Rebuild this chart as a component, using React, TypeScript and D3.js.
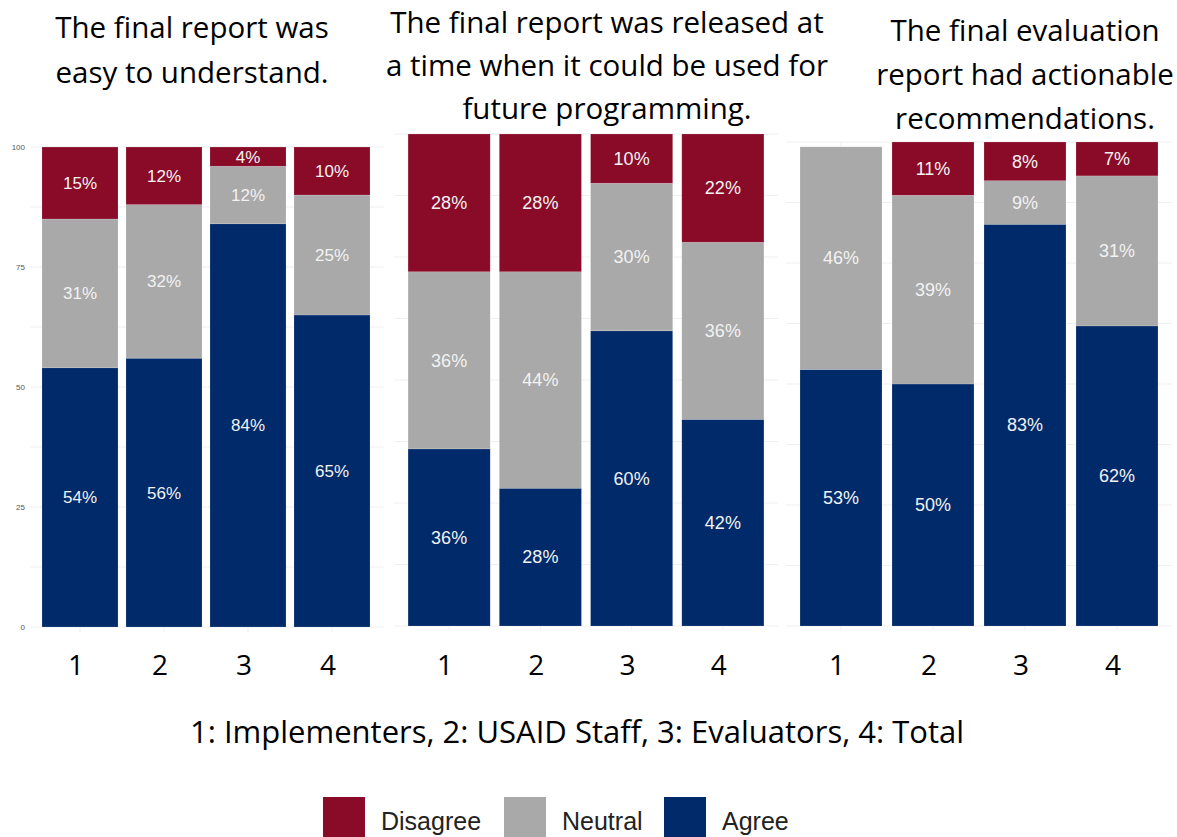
import * as d3 from 'd3';
import React from 'react';

const categories = ['1', '2', '3', '4'];
const seriesNames = ['Disagree', 'Neutral', 'Agree'];

const disagree1 = [15, 12, 4, 10];
const neutral1 = [31, 32, 12, 25];
const agree1 = [54, 56, 84, 65];

const disagree2 = [28, 28, 10, 22];
const neutral2 = [36, 44, 30, 36];
const agree2 = [36, 28, 60, 42];

const disagree3 = [0, 11, 8, 7];
const neutral3 = [46, 39, 9, 31];
const agree3 = [53, 50, 83, 62];

const yTicks = [0, 25, 50, 75, 100];
const gridTicks = [0, 12.5, 25, 37.5, 50, 62.5, 75, 87.5, 100];

const titles = [
  ['The final report was', 'easy to understand.'],
  ['The final report was released at', 'a time when it could be used for', 'future programming.'],
  ['The final evaluation', 'report had actionable', 'recommendations.'],
];
const caption = '1: Implementers, 2: USAID Staff, 3: Evaluators, 4: Total';

const colors = { Disagree: '#8a0b28', Neutral: '#a9a9a9', Agree: '#002a6a' };

// layout of the three pasted panels
const panels = [
  { agree: agree1, neutral: neutral1, disagree: disagree1, x: [38, 374], y: [627, 147], grid: [30, 384], pIn: 0.095, labelSize: 17, axis: true,
    title: { cx: 192, y: 38, lh: 45 } },
  { agree: agree2, neutral: neutral2, disagree: disagree2, x: [403.5, 768.5], y: [626, 134], grid: [394, 778], pIn: 0.1, labelSize: 18, axis: false,
    title: { cx: 607, y: 33, lh: 43 } },
  { agree: agree3, neutral: neutral3, disagree: disagree3, x: [795, 1163], y: [626, 142], grid: [786, 1172], pIn: 0.109, labelSize: 18, axis: false,
    title: { cx: 1025, y: 41, lh: 44 } },
];

const titleFont = "'Open Sans', sans-serif";
const arial = "'Liberation Sans', Arial, sans-serif";

function Panel({ p, idx }: { p: any; idx: number }) {
  const x = d3.scaleBand().domain(categories).range(p.x as [number, number]).paddingInner(p.pIn).paddingOuter(p.pIn / 2);
  const y = d3.scaleLinear().domain([0, 100]).range(p.y as [number, number]);
  const rows = categories.map((c, i) => ({ cat: c, Agree: p.agree[i], Neutral: p.neutral[i], Disagree: p.disagree[i] }));
  const stacked = d3.stack<any>().keys(['Agree', 'Neutral', 'Disagree'])(rows);
  const clipId = `clip${idx}`;
  return (
    <g>
      <defs>
        <clipPath id={clipId}>
          <rect x={p.grid[0]} y={y(100)} width={p.grid[1] - p.grid[0]} height={y(0) - y(100) + 8} />
        </clipPath>
      </defs>
      {gridTicks.map(t => (
        <line key={t} x1={p.grid[0]} x2={p.grid[1]} y1={y(t)} y2={y(t)} stroke="#efefef" strokeWidth={1} />
      ))}
      {categories.map(c => (
        <line key={c} x1={x(c)! + x.bandwidth() / 2} x2={x(c)! + x.bandwidth() / 2} y1={y(100)} y2={y(0) + 5} stroke="#efefef" strokeWidth={1} />
      ))}
      {p.axis && yTicks.map(t => (
        <text key={t} x={25} y={y(t)} dy="0.35em" textAnchor="end" fontFamily={arial} fontSize={8} fill="#555">{t}</text>
      ))}
      <g clipPath={`url(#${clipId})`}>
        {stacked.map(s => s.map((d, i) => (
          d[1] - d[0] > 0 ? (
            <rect key={s.key + i} x={x(categories[i])} y={y(d[1])} width={x.bandwidth()} height={y(d[0]) - y(d[1])}
              fill={(colors as any)[s.key]} stroke="#ffffff" strokeOpacity={0.25} strokeWidth={0.6} />
          ) : null
        )))}
        {stacked.map(s => s.map((d, i) => (
          d[1] - d[0] > 0 ? (
            <text key={'t' + s.key + i} x={x(categories[i])! + x.bandwidth() / 2} y={y((d[0] + d[1]) / 2)} dy="0.35em"
              textAnchor="middle" fontFamily={arial} fontSize={p.labelSize} fill="#f2f2f2">{`${d[1] - d[0]}%`}</text>
          ) : null
        )))}
      </g>
      {categories.map(c => (
        <text key={'x' + c} x={x(c)! + x.bandwidth() / 2 - 4} y={675} textAnchor="middle" fontFamily={titleFont} fontSize={28} fill="#000">{c}</text>
      ))}
      {titles[idx].map((line, i) => (
        <text key={'ti' + i} x={p.title.cx} y={p.title.y + i * p.title.lh} textAnchor="middle" fontFamily={titleFont} fontSize={29.5} fill="#000">{line}</text>
      ))}
    </g>
  );
}

export default function App() {
  const legendX = d3.scaleOrdinal<string, number>().domain(seriesNames).range([323, 504, 664]);
  return (
    <div style={{ position: 'absolute', left: 0, top: 0 }}>
      <svg width={1177} height={837} style={{ display: 'block', background: '#fff' }}>
        {panels.map((p, i) => <Panel key={i} p={p} idx={i} />)}
        <text x={577} y={743} textAnchor="middle" fontFamily={titleFont} fontSize={31} fill="#000">{caption}</text>
        {seriesNames.map(n => (
          <g key={n}>
            <rect x={legendX(n)} y={797} width={42} height={44} fill={(colors as any)[n]} />
            <text x={legendX(n) + 58} y={830} fontFamily={arial} fontSize={25} fill="#222">{n}</text>
          </g>
        ))}
      </svg>
    </div>
  );
}
